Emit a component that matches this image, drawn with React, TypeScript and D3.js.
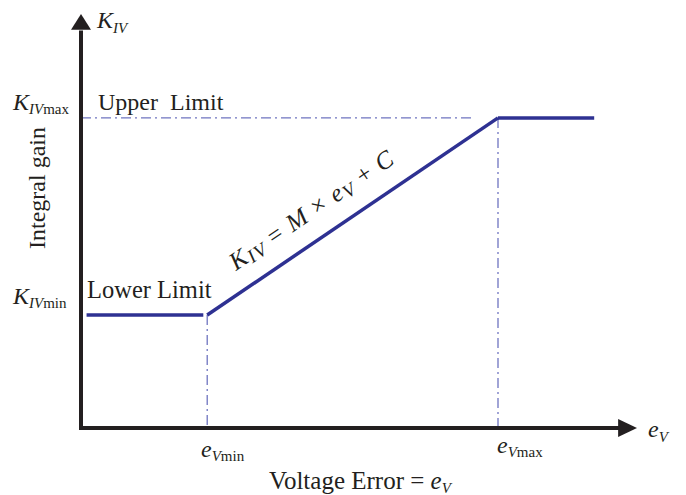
import React from "react";
import * as d3 from "d3";

// Piecewise gain schedule (arbitrary units on both axes)
const eVmin = 22.7;
const eVmax = 75;
const kIVmin = 27.3;
const kIVmax = 74.9;
const lowerLimitX = [1, 22];
const upperLimitX = [eVmax, 92.3];
const rampX = [eVmin, eVmax];
const rampY = [kIVmin, kIVmax];

const W = 686;
const H = 495;
const FONT = "'Liberation Serif', 'Times New Roman', serif";
const LINE = "#2e3192";
const GUIDE = "#6f74c0";
const AXIS = "#231f20";

export default function App() {
  const x = d3.scaleLinear().domain([0, 100]).range([81, 637]);
  const y = d3.scaleLinear().domain([0, 100]).range([428, 14]);
  const line = d3
    .line<[number, number]>()
    .x((d) => x(d[0]))
    .y((d) => y(d[1]));

  const lower: [number, number][] = lowerLimitX.map((v) => [v, kIVmin]);
  const ramp: [number, number][] = rampX.map((v, i) => [v, rampY[i]]);
  const upper: [number, number][] = upperLimitX.map((v) => [v, kIVmax]);

  const x0 = x(0);
  const y0 = y(0);
  const angle =
    (Math.atan2(y(kIVmax) - y(kIVmin), x(eVmax) - x(eVmin)) * 180) / Math.PI;
  const dash = "10 4 2 4";

  return (
    <svg
      width={W}
      height={H}
      style={{ position: "absolute", left: 0, top: 0, background: "#fff" }}
      fontFamily={FONT}
      fill={AXIS}
    >
      {/* guide lines */}
      <path
        d={line([[0, kIVmax], [eVmax - 4.5, kIVmax]])!}
        stroke={GUIDE}
        strokeWidth={1.3}
        strokeDasharray={dash}
        fill="none"
      />
      <path
        d={line([[eVmin, kIVmin], [eVmin, 0]])!}
        stroke={GUIDE}
        strokeWidth={1.3}
        strokeDasharray={dash}
        fill="none"
      />
      <path
        d={line([[eVmax, kIVmax], [eVmax, 0]])!}
        stroke={GUIDE}
        strokeWidth={1.3}
        strokeDasharray={dash}
        fill="none"
      />

      {/* axes */}
      <line x1={x0} y1={y0 + 2} x2={x0} y2={y(96)} stroke={AXIS} strokeWidth={4} />
      <path d={`M${x0},${y(100)} L${x0 - 10},${y(96.2)} L${x0 + 10},${y(96.2)} Z`} fill={AXIS} />
      <line x1={x0 - 2} y1={y0} x2={x(97)} y2={y0} stroke={AXIS} strokeWidth={4} />
      <path d={`M${x(100)},${y0} L${x(96.6)},${y0 - 9} L${x(96.6)},${y0 + 9} Z`} fill={AXIS} />

      {/* gain curve */}
      {[lower, ramp, upper].map((seg, i) => (
        <path key={i} d={line(seg)!} stroke={LINE} strokeWidth={3.5} fill="none" strokeLinecap="butt" />
      ))}

      {/* axis titles */}
      <text x={97} y={28} fontSize={24} fontStyle="italic">
        K<tspan fontSize={15} dy={5}>IV</tspan>
      </text>
      <text x={648} y={437} fontSize={24} fontStyle="italic">
        e<tspan fontSize={15} dy={5}>V</tspan>
      </text>
      <text
        transform="translate(45,188) rotate(-90)"
        textAnchor="middle"
        fontSize={24}
      >
        Integral gain
      </text>
      <text x={360} y={489} textAnchor="middle" fontSize={25}>
        Voltage Error ={" "}
        <tspan fontStyle="italic">e</tspan>
        <tspan fontStyle="italic" fontSize={15} dy={4}>V</tspan>
      </text>

      {/* level labels */}
      <text x={13} y={110} fontSize={24}>
        <tspan fontStyle="italic">K</tspan>
        <tspan fontStyle="italic" fontSize={15} dy={4}>IV</tspan>
        <tspan fontSize={15}>max</tspan>
      </text>
      <text x={13} y={304} fontSize={24}>
        <tspan fontStyle="italic">K</tspan>
        <tspan fontStyle="italic" fontSize={15} dy={4}>IV</tspan>
        <tspan fontSize={15}>min</tspan>
      </text>
      <text x={98} y={110} fontSize={24}>
        Upper{"\u00a0\u00a0"}Limit
      </text>
      <text x={87} y={298} fontSize={24.5}>
        Lower Limit
      </text>

      {/* breakpoint labels */}
      <text x={201} y={457} fontSize={24}>
        <tspan fontStyle="italic">e</tspan>
        <tspan fontStyle="italic" fontSize={15} dy={4}>V</tspan>
        <tspan fontSize={15}>min</tspan>
      </text>
      <text x={497} y={453} fontSize={24}>
        <tspan fontStyle="italic">e</tspan>
        <tspan fontStyle="italic" fontSize={15} dy={4}>V</tspan>
        <tspan fontSize={15}>max</tspan>
      </text>

      {/* ramp equation */}
      <text
        transform={`translate(236,271) rotate(${angle})`}
        fontSize={25}
        letterSpacing={1.2}
      >
        <tspan fontStyle="italic">K</tspan>
        <tspan fontStyle="italic" fontSize={19} dy={3}>IV</tspan>
        <tspan dy={-3}> = </tspan>
        <tspan fontStyle="italic">M</tspan>
        <tspan> × </tspan>
        <tspan fontStyle="italic">e</tspan>
        <tspan fontStyle="italic" fontSize={19} dy={3}>V</tspan>
        <tspan dy={-3}> + </tspan>
        <tspan fontStyle="italic">C</tspan>
      </text>
    </svg>
  );
}
